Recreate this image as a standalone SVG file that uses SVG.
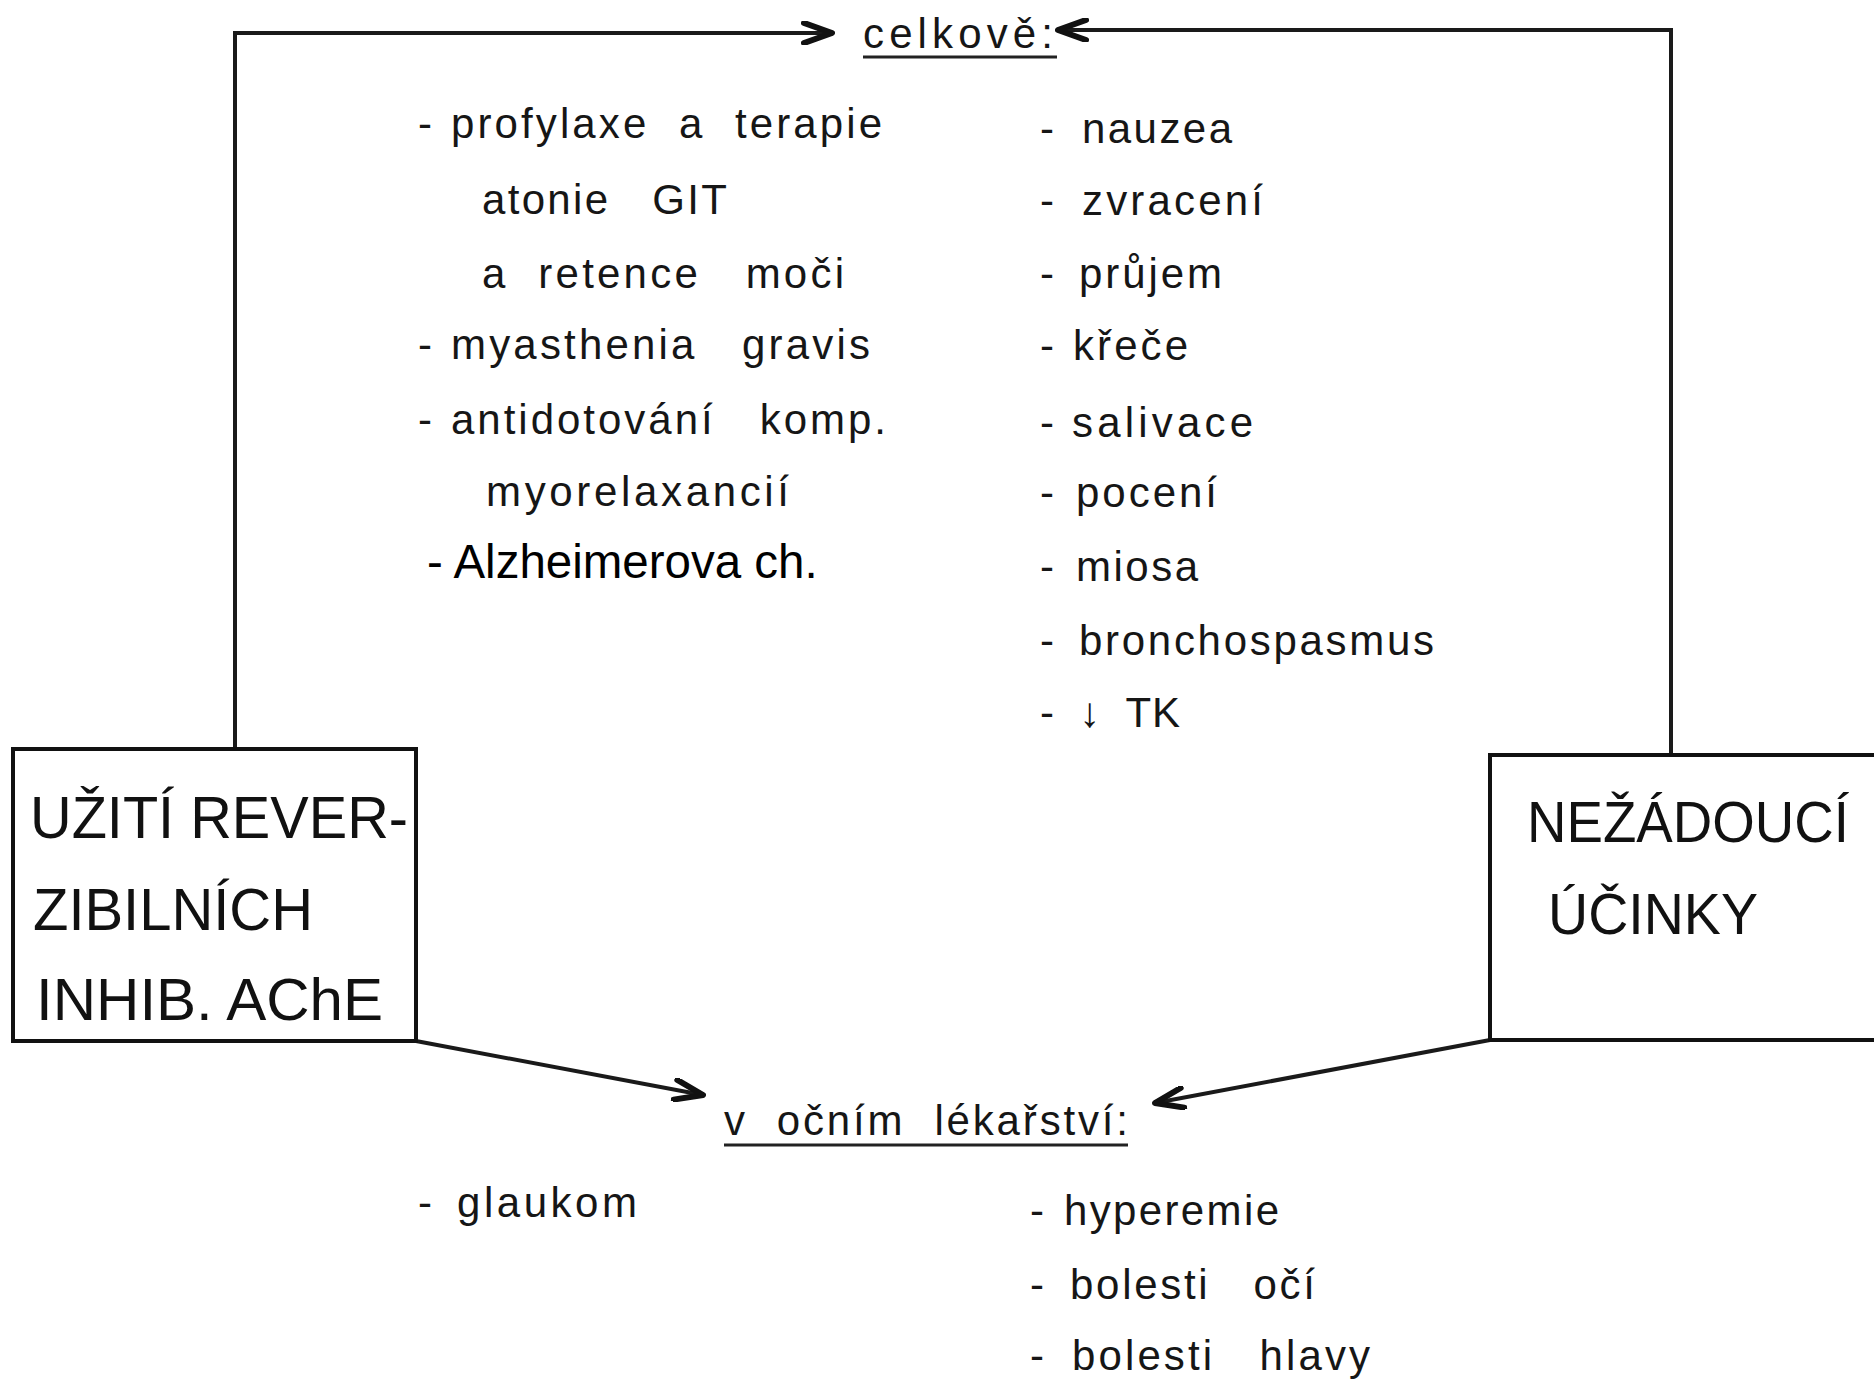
<svg xmlns="http://www.w3.org/2000/svg" width="1874" height="1381" viewBox="0 0 1874 1381">
  <style>
    .hw { font-family: "Liberation Sans", Arial, sans-serif; font-size: 42px; fill: #161616; white-space: pre; }
    .cap { font-family: "Liberation Sans", Arial, sans-serif; font-size: 60px; fill: #111; }
    .capr { font-family: "Liberation Sans", Arial, sans-serif; font-size: 58px; fill: #111; }
    .ar { font-family: "Liberation Sans", Arial, sans-serif; font-size: 47.5px; fill: #000; }
    .box { fill: none; stroke: #111; stroke-width: 4; }
    .conn { fill: none; stroke: #1a1a1a; stroke-width: 4; }
    .ul { stroke: #222; stroke-width: 3; }
  </style>
  <defs>
    <marker id="head" viewBox="0 0 34 24" refX="31" refY="12" markerWidth="34" markerHeight="24" markerUnits="userSpaceOnUse" orient="auto">
      <path d="M3,2 L31,12 L3,22" fill="none" stroke="#111" stroke-width="6" stroke-linecap="round" stroke-linejoin="round"/>
    </marker>
  </defs>
  <rect width="1874" height="1381" fill="#fff"/>

  <!-- connectors -->
  <g id="connectors">
    <path class="conn" d="M235,749 V33 H832" marker-end="url(#head)"/>
    <path class="conn" d="M1671,755 V30 H1058" marker-end="url(#head)"/>
    <path class="conn" d="M416,1041 L703,1095" marker-end="url(#head)"/>
    <path class="conn" d="M1490,1040 L1155,1103" marker-end="url(#head)"/>
  </g>

  <!-- source node -->
  <g id="node-uziti">
    <rect class="box" x="13" y="749" width="403" height="292"/>
    <text class="cap" x="30" y="838" textLength="378" lengthAdjust="spacingAndGlyphs">UŽITÍ REVER-</text>
    <text class="cap" x="33" y="930" textLength="280" lengthAdjust="spacingAndGlyphs">ZIBILNÍCH</text>
    <text class="cap" x="36" y="1020" textLength="347" lengthAdjust="spacingAndGlyphs">INHIB. AChE</text>
  </g>

  <!-- side effects node -->
  <g id="node-nezadouci">
    <path class="box" d="M1880,755 H1490 V1040 H1880"/>
    <text class="capr" x="1527" y="842" textLength="322" lengthAdjust="spacingAndGlyphs">NEŽÁDOUCÍ</text>
    <text class="capr" x="1548" y="934" textLength="210" lengthAdjust="spacingAndGlyphs">ÚČINKY</text>
  </g>

  <!-- general use and effects -->
  <g id="node-celkove">
    <text class="hw" x="863" y="48" textLength="190" lengthAdjust="spacing">celkově:</text>
    <line class="ul" x1="863" y1="57" x2="1057" y2="57"/>

    <text class="hw" xml:space="preserve" y="138"><tspan x="418">-</tspan><tspan x="451" textLength="431" lengthAdjust="spacing">profylaxe  a  terapie</tspan></text>
    <text class="hw" xml:space="preserve" x="482" y="214" textLength="245" lengthAdjust="spacing">atonie   GIT</text>
    <text class="hw" xml:space="preserve" x="482" y="288" textLength="362" lengthAdjust="spacing">a  retence   moči</text>
    <text class="hw" xml:space="preserve" y="359"><tspan x="418">-</tspan><tspan x="451" textLength="419" lengthAdjust="spacing">myasthenia   gravis</tspan></text>
    <text class="hw" xml:space="preserve" y="434"><tspan x="418">-</tspan><tspan x="451" textLength="435" lengthAdjust="spacing">antidotování   komp.</tspan></text>
    <text class="hw" x="486" y="506" textLength="303" lengthAdjust="spacing">myorelaxancií</text>
    <text class="ar" x="427" y="578">- Alzheimerova ch.</text>

    <text class="hw" y="143"><tspan x="1040">-</tspan><tspan x="1082" textLength="150" lengthAdjust="spacing">nauzea</tspan></text>
    <text class="hw" y="215"><tspan x="1040">-</tspan><tspan x="1082" textLength="181" lengthAdjust="spacing">zvracení</tspan></text>
    <text class="hw" y="288"><tspan x="1040">-</tspan><tspan x="1079" textLength="143" lengthAdjust="spacing">průjem</tspan></text>
    <text class="hw" y="360"><tspan x="1040">-</tspan><tspan x="1073" textLength="115" lengthAdjust="spacing">křeče</tspan></text>
    <text class="hw" y="437"><tspan x="1040">-</tspan><tspan x="1072" textLength="181" lengthAdjust="spacing">salivace</tspan></text>
    <text class="hw" y="507"><tspan x="1040">-</tspan><tspan x="1076" textLength="141" lengthAdjust="spacing">pocení</tspan></text>
    <text class="hw" y="581"><tspan x="1040">-</tspan><tspan x="1076" textLength="122" lengthAdjust="spacing">miosa</tspan></text>
    <text class="hw" y="655"><tspan x="1040">-</tspan><tspan x="1079" textLength="355" lengthAdjust="spacing">bronchospasmus</tspan></text>
    <text class="hw" xml:space="preserve" y="727"><tspan x="1040">-</tspan><tspan x="1079" textLength="101" lengthAdjust="spacing">↓  TK</tspan></text>
  </g>

  <!-- ophthalmology -->
  <g id="node-ocni">
    <text class="hw" xml:space="preserve" x="724" y="1135" textLength="404" lengthAdjust="spacing">v  očním  lékařství:</text>
    <line class="ul" x1="724" y1="1145" x2="1128" y2="1145"/>

    <text class="hw" y="1217"><tspan x="418">-</tspan><tspan x="457" textLength="180" lengthAdjust="spacing">glaukom</tspan></text>
    <text class="hw" y="1225"><tspan x="1030">-</tspan><tspan x="1064" textLength="215" lengthAdjust="spacing">hyperemie</tspan></text>
    <text class="hw" xml:space="preserve" y="1299"><tspan x="1030">-</tspan><tspan x="1070" textLength="245" lengthAdjust="spacing">bolesti   očí</tspan></text>
    <text class="hw" xml:space="preserve" y="1370"><tspan x="1030">-</tspan><tspan x="1072" textLength="298" lengthAdjust="spacing">bolesti   hlavy</tspan></text>
  </g>
</svg>
